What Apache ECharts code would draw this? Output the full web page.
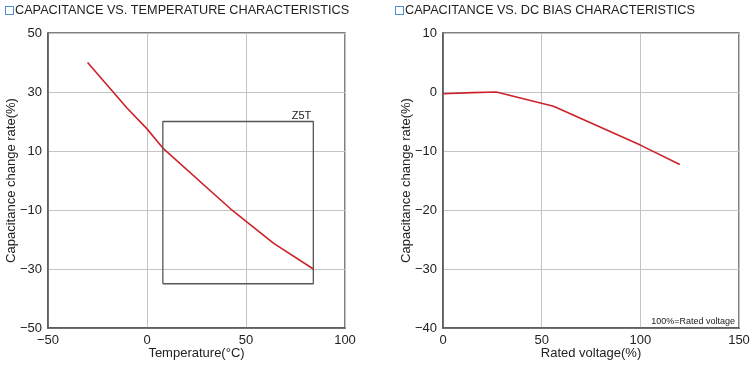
<!DOCTYPE html>
<html><head><meta charset="utf-8">
<script src="https://cdn.jsdelivr.net/npm/echarts@6/dist/echarts.min.js"></script>
<style>html,body{margin:0;padding:0;background:#fff}#c{width:751px;height:365px}</style>
</head><body><div id="c"></div>
<script>
// Left: capacitance vs temperature
const tempX = [-30, -10, 0, 8, 42, 64, 84];
const tempY = [40, 24.5, 17.5, 11, -9.5, -21.3, -30];
const z5tBoxX = [8, 84];
const z5tBoxY = [-35, 20];
// Right: capacitance vs DC bias
const biasX = [0, 15, 27, 56, 100, 120];
const biasY = [-0.3, -0.1, 0, -2.4, -9, -12.3];
const titles = ['CAPACITANCE VS. TEMPERATURE CHARACTERISTICS', 'CAPACITANCE VS. DC BIAS CHARACTERISTICS'];

const FONT = 'Liberation Sans, Arial, sans-serif';
const TXT = '#222';
const minus = v => String(v).replace('-', '\u2212');
const chart = echarts.init(document.getElementById('c'), null, {renderer: 'canvas'});

function xAxis(idx, min, max, name) {
  return {type: 'value', gridIndex: idx, min, max, interval: 50, name, nameLocation: 'middle', nameGap: 19, nameMoveOverlap: false,
    nameTextStyle: {color: TXT, fontSize: 13, fontFamily: FONT},
    axisLine: {show: true, onZero: false, lineStyle: {color: '#555', width: 1.5}}, axisTick: {show: false},
    axisLabel: {color: TXT, fontSize: 13, fontFamily: FONT, margin: 6, formatter: minus},
    splitLine: {show: true, lineStyle: {color: '#c4c4c4', width: 1}}};
}
function yAxis(idx, min, max, interval) {
  return {type: 'value', gridIndex: idx, min, max, interval, name: 'Capacitance change rate(%)', nameLocation: 'middle', nameGap: 30, nameMoveOverlap: false,
    nameTextStyle: {color: TXT, fontSize: 13, fontFamily: FONT},
    axisLine: {show: true, onZero: false, lineStyle: {color: '#555', width: 1.5}}, axisTick: {show: false},
    axisLabel: {color: TXT, fontSize: 13, fontFamily: FONT, margin: 6, formatter: minus},
    splitLine: {show: true, lineStyle: {color: '#c4c4c4', width: 1}}};
}
const titleStyle = {color: TXT, fontSize: 12.7, fontWeight: 'normal', fontFamily: FONT,
  rich: {sq: {width: 7, height: 7, borderColor: '#4a90d0', borderWidth: 1, backgroundColor: '#fff'}, t: {color: TXT, fontSize: 12.7, fontFamily: FONT, padding: [0, 0, 0, 2]}}};

chart.setOption({
  animation: false,
  title: [
    {text: '{sq|}{t|' + titles[0] + '}', left: 1, top: -1, textStyle: titleStyle},
    {text: '{sq|}{t|' + titles[1] + '}', left: 391, top: -1, textStyle: titleStyle}
  ],
  grid: [
    {left: 48, top: 33, width: 297, height: 295, outerBoundsMode: 'none', containLabel: false, show: true, borderColor: '#555', borderWidth: 1.5, backgroundColor: 'transparent'},
    {left: 443, top: 33, width: 296, height: 295, outerBoundsMode: 'none', containLabel: false, show: true, borderColor: '#555', borderWidth: 1.5, backgroundColor: 'transparent'}
  ],
  xAxis: [xAxis(0, -50, 100, 'Temperature(°C)'), xAxis(1, 0, 150, 'Rated voltage(%)')],
  yAxis: [yAxis(0, -50, 50, 20), yAxis(1, -40, 10, 10)],
  series: [
    {type: 'line', xAxisIndex: 0, yAxisIndex: 0, showSymbol: false, symbol: 'none',
      lineStyle: {color: '#cc2229', width: 1.6}, data: tempX.map((x, i) => [x, tempY[i]])},
    {type: 'line', xAxisIndex: 0, yAxisIndex: 0, showSymbol: false, symbol: 'none', silent: true,
      lineStyle: {color: '#555', width: 1.3},
      data: [[z5tBoxX[0], z5tBoxY[0]], [z5tBoxX[0], z5tBoxY[1]], [z5tBoxX[1], z5tBoxY[1]], [z5tBoxX[1], z5tBoxY[0]], [z5tBoxX[0], z5tBoxY[0]]],
      markPoint: {symbol: 'rect', symbolSize: 0, data: [{coord: [z5tBoxX[1], z5tBoxY[1]],
        label: {show: true, formatter: 'Z5T', color: TXT, fontSize: 11, fontFamily: FONT, align: 'right', verticalAlign: 'bottom', offset: [-2, 0]}}]}},
    {type: 'line', xAxisIndex: 1, yAxisIndex: 1, showSymbol: false, symbol: 'none',
      lineStyle: {color: '#cc2229', width: 1.6}, data: biasX.map((x, i) => [x, biasY[i]])},
    {type: 'line', xAxisIndex: 1, yAxisIndex: 1, data: [], 
      markPoint: {symbol: 'rect', symbolSize: 0, data: [{coord: [150, -40],
        label: {show: true, formatter: '100%=Rated voltage', color: TXT, fontSize: 9, fontFamily: FONT, align: 'right', verticalAlign: 'bottom', offset: [-4, -2]}}]}}
  ]
});
</script></body></html>
